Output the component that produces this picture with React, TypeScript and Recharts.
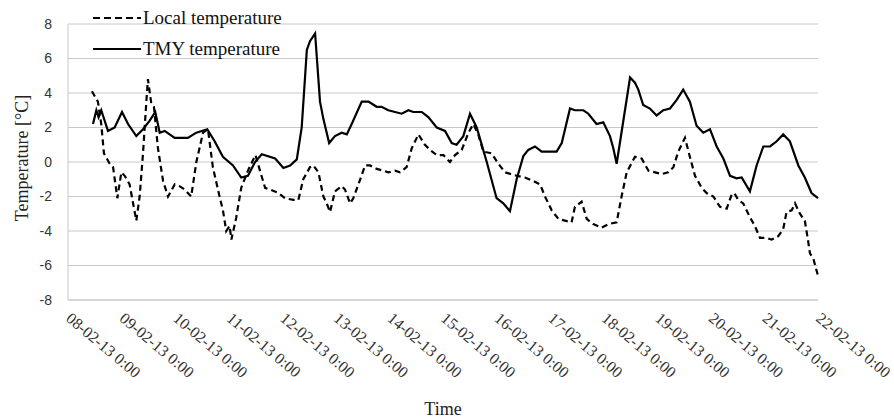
import {
	CartesianGrid,
	Legend,
	Line,
	LineChart,
	XAxis,
	YAxis,
} from "recharts";

// hours since 08-02-13 0:00, temperature in °C
const localTemperature: [number, number][] = [
	[10.7, 4.1], [13.4, 3.5], [14.9, 2.2], [16.1, 0.5], [18.7, -0.1], [20.2, -0.3],
	[22.1, -2.1], [23.9, -0.6], [25.4, -0.8], [27.6, -1.3], [30.6, -3.4], [32.1, -2.0],
	[33.6, 0.5], [35.1, 3.5], [35.8, 4.8], [37.3, 3.4], [38.5, 3.2], [40.3, 0.8],
	[42.6, -1.1], [44.8, -2.0], [47.8, -1.3], [50.0, -1.4], [52.3, -1.6], [55.2, -2.0],
	[57.5, 0.0], [60.5, 1.7], [62.7, 1.9], [64.9, -0.3], [67.9, -2.0], [69.4, -2.8],
	[70.9, -4.0], [72.4, -3.7], [73.2, -4.5], [75.4, -3.2], [77.6, -1.5], [80.6, -0.5],
	[84.0, 0.4], [86.0, -0.5], [88.3, -1.5], [90.5, -1.6], [94.3, -1.8], [97.2, -2.1],
	[101.0, -2.2], [103.2, -2.2], [105.4, -1.0], [108.4, -0.3], [109.9, -0.2], [112.2, -0.6],
	[114.4, -2.0], [115.9, -2.4], [117.4, -2.9], [119.6, -1.7], [122.6, -1.4], [124.1, -1.6],
	[126.4, -2.4], [127.8, -2.1], [130.1, -1.3], [133.1, -0.2], [135.3, -0.2], [138.3, -0.4],
	[141.3, -0.5], [143.5, -0.6], [146.5, -0.5], [148.7, -0.6], [151.7, -0.3], [154.0, 0.8],
	[157.0, 1.6], [159.9, 1.0], [162.2, 0.7], [165.2, 0.4], [168.2, 0.4], [171.1, 0.0],
	[173.4, 0.4], [176.4, 0.7], [179.4, 1.7], [181.6, 2.2], [183.8, 1.6], [186.1, 0.6],
	[189.8, 0.5], [192.8, -0.1], [195.8, -0.6], [201.0, -0.8], [204.7, -0.9], [208.5, -1.1],
	[211.5, -1.3], [213.7, -2.0], [216.7, -2.8], [219.7, -3.3], [222.6, -3.4], [225.6, -3.5],
	[227.1, -2.6], [230.1, -2.3], [232.4, -3.3], [235.3, -3.6], [239.1, -3.8], [242.1, -3.6],
	[245.8, -3.5], [248.0, -2.0], [250.3, -0.6], [254.0, 0.3], [257.0, 0.2], [260.0, -0.5],
	[263.0, -0.6], [265.9, -0.7], [268.9, -0.6], [271.2, -0.3], [273.4, 0.6], [276.4, 1.4],
	[278.6, 0.3], [280.9, -0.8], [283.9, -1.5], [286.1, -1.8], [289.1, -2.0], [292.1, -2.6],
	[295.1, -2.7], [297.3, -1.9], [298.5, -1.8], [300.3, -2.2], [302.5, -2.4], [305.5, -3.2],
	[307.7, -3.7], [310.0, -4.4], [313.0, -4.4], [315.2, -4.5], [318.2, -4.3], [320.4, -3.9],
	[321.9, -2.9], [324.2, -2.8], [325.7, -2.4], [327.9, -3.0], [330.1, -3.4], [331.6, -4.6],
	[332.4, -5.3], [333.9, -5.6], [336.0, -6.6],
];

const tmyTemperature: [number, number][] = [
	[11.2, 2.2], [12.7, 3.0], [13.7, 2.6], [14.9, 3.0], [17.9, 1.8], [20.9, 2.0],
	[24.2, 2.9], [26.9, 2.2], [30.6, 1.5], [33.6, 1.9], [36.6, 2.4], [39.1, 2.9],
	[41.1, 1.7], [43.3, 1.8], [47.8, 1.4], [53.7, 1.4], [57.5, 1.7], [62.4, 1.9],
	[65.7, 1.2], [69.4, 0.3], [73.9, -0.2], [77.6, -0.9], [80.6, -0.8], [83.8, 0.0],
	[86.8, 0.45], [92.8, 0.2], [96.5, -0.35], [99.5, -0.2], [102.5, 0.15], [104.7, 2.0],
	[107.0, 6.5], [108.4, 7.0], [110.7, 7.45], [112.9, 3.5], [114.4, 2.5], [117.0, 1.1],
	[119.6, 1.5], [122.6, 1.7], [124.9, 1.6], [127.1, 2.2], [131.6, 3.5], [134.6, 3.5],
	[138.3, 3.2], [140.5, 3.2], [143.5, 3.0], [149.5, 2.8], [152.5, 3.0], [154.7, 2.9],
	[158.5, 2.9], [161.4, 2.6], [165.2, 2.0], [168.9, 1.8], [171.9, 1.1], [174.1, 1.0],
	[177.1, 1.5], [180.1, 2.8], [183.1, 2.0], [187.6, 0.0], [192.0, -2.1], [195.0, -2.4],
	[198.0, -2.85], [201.0, -1.0], [204.0, 0.35], [206.2, 0.7], [209.2, 0.9], [212.2, 0.6],
	[218.9, 0.6], [221.2, 1.1], [224.9, 3.1], [227.1, 3.0], [230.9, 3.0], [233.1, 2.8],
	[236.8, 2.2], [239.8, 2.3], [242.8, 1.5], [244.3, 0.8], [245.8, -0.1], [251.8, 4.9],
	[254.0, 4.6], [255.5, 4.2], [257.7, 3.3], [260.7, 3.1], [263.7, 2.7], [266.7, 3.0],
	[269.7, 3.1], [272.7, 3.6], [275.6, 4.2], [278.6, 3.5], [281.6, 2.1], [284.6, 1.7],
	[287.6, 1.9], [290.6, 0.9], [293.6, 0.2], [296.6, -0.8], [299.5, -0.95], [301.8, -0.9],
	[305.5, -1.7], [308.5, -0.2], [311.5, 0.9], [314.5, 0.9], [317.5, 1.2], [320.4, 1.6],
	[323.4, 1.2], [327.2, -0.2], [330.1, -0.9], [333.1, -1.8], [336.0, -2.1],
];

const dayLabels = [
	"08-02-13 0:00", "09-02-13 0:00", "10-02-13 0:00", "11-02-13 0:00",
	"12-02-13 0:00", "13-02-13 0:00", "14-02-13 0:00", "15-02-13 0:00",
	"16-02-13 0:00", "17-02-13 0:00", "18-02-13 0:00", "19-02-13 0:00",
	"20-02-13 0:00", "21-02-13 0:00", "22-02-13 0:00",
];

const yTicks = [-8, -6, -4, -2, 0, 2, 4, 6, 8];

const SERIF = '"Liberation Serif", "Times New Roman", serif';
const SANS = '"Liberation Sans", Arial, sans-serif';

const toRows = (pairs: [number, number][]) =>
	pairs.map(([h, t]) => ({ h, t }));

const localData = toRows(localTemperature);
const tmyData = toRows(tmyTemperature);
const dayTicks = dayLabels.map((_, i) => i * 24);

const DayTick = ({ x, y, payload }: any) => {
	const label = dayLabels[Math.round(payload.value / 24)];
	const ax = x - 3;
	return (
		<text
			x={ax}
			y={y}
			transform={`rotate(40, ${ax}, ${y})`}
			textAnchor="start"
			fontFamily={SERIF}
			fontSize={16}
			fill="#333"
		>
			{label}
		</text>
	);
};

const YTitle = ({ viewBox }: any) => {
	const cy = viewBox.y + viewBox.height / 2 - 4;
	return (
		<text
			x={22}
			y={cy}
			transform={`rotate(-90, 22, ${cy})`}
			textAnchor="middle"
			dominantBaseline="central"
			fontFamily={SERIF}
			fontSize={18}
			fill="#222"
		>
			Temperature [°C]
		</text>
	);
};

const LegendBox = ({ payload }: any) => (
	<div style={{ fontFamily: SERIF, fontSize: 19, color: "#111" }}>
		{(payload || []).map((entry: any) => (
			<div
				key={entry.value}
				style={{ display: "flex", alignItems: "center", height: 31 }}
			>
				<svg width={48} height={10}>
					<line
						x1={0}
						y1={5}
						x2={48}
						y2={5}
						stroke="#000"
						strokeWidth={2}
						strokeDasharray={entry.value.startsWith("Local") ? "7 4" : undefined}
					/>
				</svg>
				<span style={{ marginLeft: 2 }}>{entry.value}</span>
			</div>
		))}
	</div>
);

export default function App() {
	return (
		<div
			style={{
				position: "absolute",
				left: 0,
				top: 0,
				width: 894,
				height: 418,
				background: "#fff",
			}}
		>
			<LineChart
				width={894}
				height={418}
				margin={{ top: 24, right: 76, bottom: 0, left: 0 }}
			>
				<CartesianGrid vertical={false} stroke="#c8c8c8" />
				<XAxis
					type="number"
					dataKey="h"
					domain={[0, 336]}
					ticks={dayTicks}
					interval={0}
					height={118}
					tickLine={false}
					tickSize={0}
					tickMargin={20}
					axisLine={{ stroke: "#c8c8c8" }}
					tick={<DayTick />}
					label={{
						value: "Time",
						position: "insideBottom",
						offset: 3,
						fontFamily: SERIF,
						fontSize: 18,
						fill: "#222",
					}}
				/>
				<YAxis
					type="number"
					domain={[-8, 8]}
					ticks={yTicks}
					interval={0}
					width={68}
					tickLine={false}
					tickSize={0}
					tickMargin={16}
					axisLine={{ stroke: "#c8c8c8" }}
					tick={{ fontFamily: SANS, fontSize: 14, fill: "#333" }}
					label={<YTitle />}
				/>
				<Legend
					layout="vertical"
					align="center"
					verticalAlign="middle"
					content={<LegendBox />}
					wrapperStyle={{ top: 2, left: 93, width: 260 }}
				/>
				<Line
					data={localData}
					dataKey="t"
					name="Local temperature"
					stroke="#000"
					strokeWidth={2.2}
					strokeDasharray="6 4"
					dot={false}
					isAnimationActive={false}
				/>
				<Line
					data={tmyData}
					dataKey="t"
					name="TMY temperature"
					stroke="#000"
					strokeWidth={2.2}
					dot={false}
					isAnimationActive={false}
				/>
			</LineChart>
		</div>
	);
}
